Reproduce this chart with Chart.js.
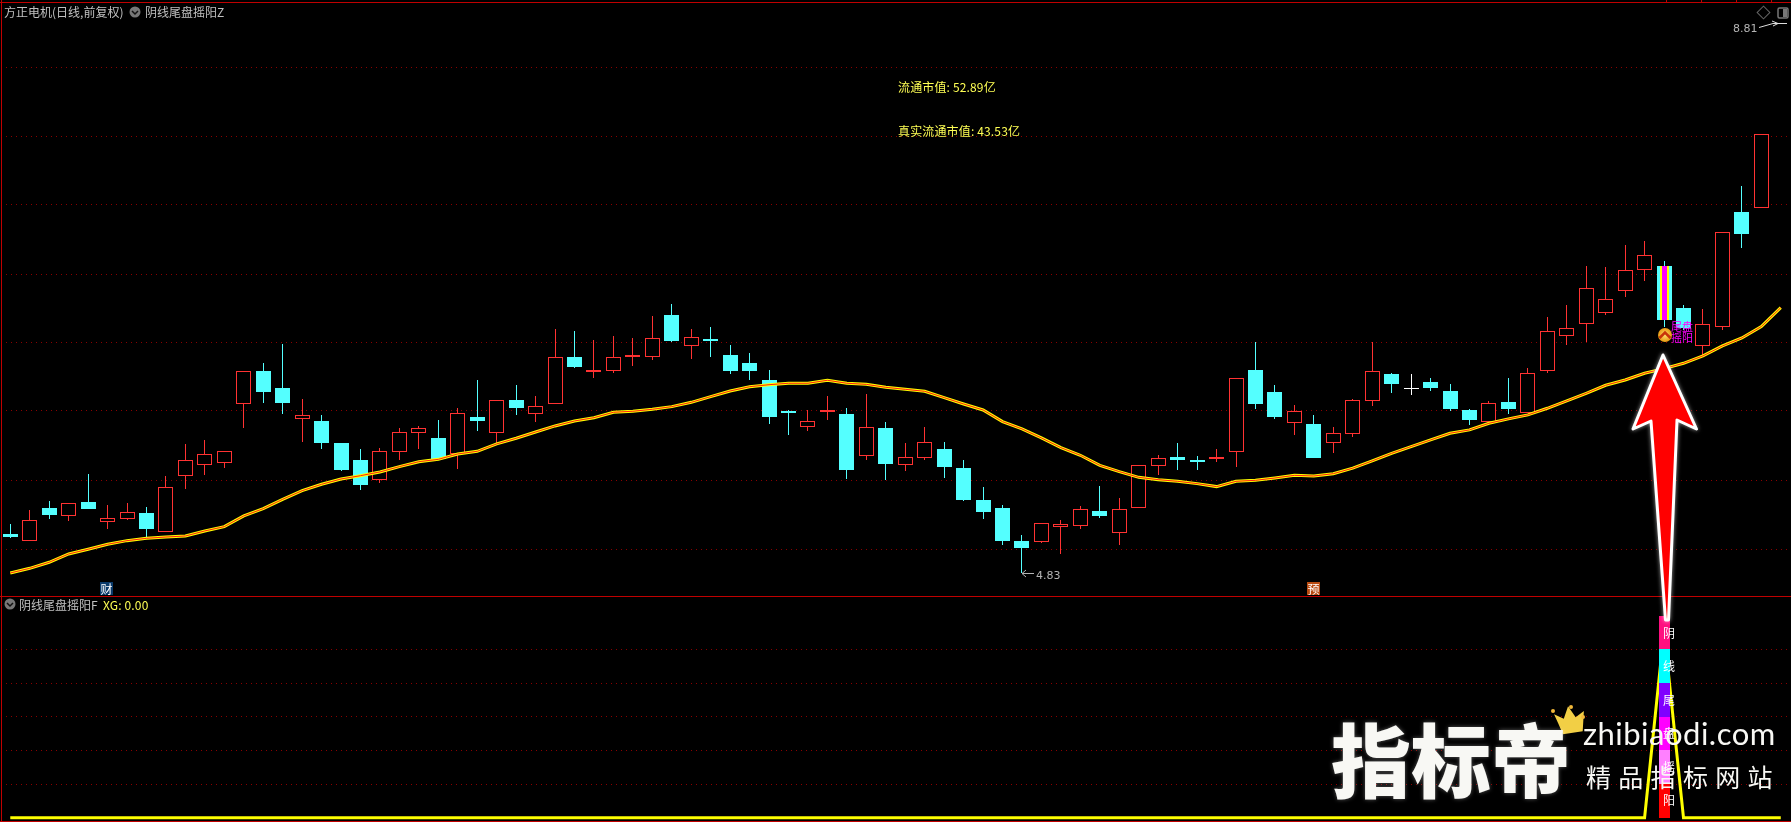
<!DOCTYPE html>
<html>
<head>
<meta charset="utf-8">
<title>方正电机</title>
<script src="https://cdn.jsdelivr.net/npm/chart.js@4/dist/chart.umd.js"></script>
<style>
html, body { margin: 0; padding: 0; background: #000; width: 1791px; height: 822px; overflow: hidden; }
body { position: relative; font-family: "Noto Sans CJK SC", sans-serif; font-size: 12px; }
canvas { position: absolute; left: 0; }
#priceChart { top: 0; }
#signalChart { top: 597px; }
.rule { position: absolute; background: #c00000; }
.txt { position: absolute; white-space: nowrap; line-height: 14px; color: #c0c0c0; }
.yellow { color: #ffff54; letter-spacing: 0.15px; }
.band { color: #fff; width: 14px; text-align: center; margin-left: -7px; margin-top: -7px; }
.tag { color: #ff00ff; font-size: 11px; line-height: 11px; }
.badge { color: #fff; width: 13px; height: 13px; line-height: 13px; text-align: center; }
.num { font-family: "DejaVu Sans", sans-serif; font-size: 11px; color: #b4b4b4; }
svg { position: absolute; left: 0; top: 0; pointer-events: none; }
.mark { color: #f8f8f4; font-weight: 900; text-shadow: 0 0 4px rgba(255,255,255,.35); }
</style>
</head>
<body>
<canvas id="priceChart" width="1791" height="597"></canvas>
<canvas id="signalChart" width="1791" height="225"></canvas>

<div class="rule" style="left:0;top:2px;width:1791px;height:1px"></div>
<div class="rule" style="left:1px;top:0;width:1px;height:822px"></div>
<div class="rule" style="left:0;top:596px;width:1791px;height:1px"></div>
<div class="rule" style="left:0;top:821px;width:1791px;height:1px"></div>
<div class="rule" style="left:1666px;top:0;width:1px;height:2px"></div>
<div class="rule" style="left:1701px;top:0;width:1px;height:2px"></div>
<div class="rule" style="left:1736px;top:0;width:1px;height:2px"></div>
<div class="rule" style="left:1771px;top:0;width:1px;height:2px"></div>

<div class="txt" style="left:4px;top:5px">方正电机(日线,前复权)</div>
<div class="txt" style="left:145px;top:5px">阴线尾盘摇阳Z</div>
<div class="txt" style="left:19px;top:598px">阴线尾盘摇阳F</div>
<div class="txt yellow" style="left:103px;top:598px">XG: 0.00</div>
<div class="txt yellow" style="left:898px;top:80px">流通市值: 52.89亿</div>
<div class="txt yellow" style="left:898px;top:124px">真实流通市值: 43.53亿</div>
<div class="txt num" style="left:1733px;top:22px">8.81</div>
<div class="txt num" style="left:1036px;top:569px">4.83</div>
<div class="txt badge" style="left:100px;top:582px;background:#0a3a6a">财</div>
<div class="txt badge" style="left:1307px;top:582px;background:#b84a10">预</div>
<div class="txt tag" style="left:1671px;top:321px">尾盘</div>
<div class="txt tag" style="left:1671px;top:332px">摇阳</div>

<div class="txt band" style="left:1669px;top:633px">阴</div>
<div class="txt band" style="left:1669px;top:666px">线</div>
<div class="txt band" style="left:1669px;top:700px">尾</div>
<div class="txt band" style="left:1669px;top:733px">盘</div>
<div class="txt band" style="left:1669px;top:767px">摇</div>
<div class="txt band" style="left:1669px;top:800px">阳</div>

<svg width="1791" height="822">
  <!-- header icons -->
  <circle cx="135" cy="12" r="5.5" fill="#777"/>
  <path d="M132 11 L135 14 L138 11" stroke="#111" stroke-width="1.5" fill="none"/>
  <circle cx="10" cy="604" r="5.5" fill="#777"/>
  <path d="M7 603 L10 606 L13 603" stroke="#111" stroke-width="1.5" fill="none"/>
  <rect x="1759" y="8" width="9" height="9" transform="rotate(45 1763.5 12.5)" fill="none" stroke="#666"/>
  <rect x="1778" y="8" width="10" height="10" rx="1.5" fill="none" stroke="#777" stroke-width="1.5"/>
  <rect x="1783" y="9" width="4" height="8" fill="#777"/>
  <!-- high and low pointers -->
  <path d="M1759 27.5 L1773 23.5 L1787 23.5" stroke="#ddd" fill="none"/>
  <path d="M1772 21 L1778 23.5 L1773 26" stroke="#ddd" fill="none"/>
  <path d="M1022 573.5 L1034 573.5 M1026 570 L1022 573.5 L1026 577" stroke="#b4b4b4" fill="none"/>
  <!-- signal marker -->
  <defs><radialGradient id="gold"><stop offset="0" stop-color="#ffe070"/><stop offset="1" stop-color="#e89a10"/></radialGradient></defs>
  <circle cx="1665" cy="335" r="7" fill="url(#gold)"/>
  <path d="M1659.5 338 L1665 332.5 L1670.5 338" stroke="#c8340a" stroke-width="2.5" fill="none"/>
  <!-- big arrow -->
  <polygon points="1663,355 1696.5,429 1677,420 1668.5,620 1665.5,620 1651,421 1633,429"
    fill="#ff0000" stroke="#fff" stroke-width="3" stroke-linejoin="round"
    style="filter:drop-shadow(0 0 2px rgba(255,255,255,.6))"/>
  <!-- crown -->
  <polygon points="1558,722 1555,712 1564,718 1570,706 1576,718 1585,713 1581,733 1561,733" fill="#f2cf45" transform="rotate(-8 1570 720)"/>
  <circle cx="1553" cy="711" r="2" fill="#f2b93a"/><circle cx="1571" cy="707" r="2" fill="#f2b93a"/><circle cx="1583" cy="717" r="2" fill="#f2b93a"/>
</svg>

<div class="txt mark" style="left:1331px;top:716px;font-size:80px;line-height:80px">指标帝</div>
<div class="txt" style="left:1583px;top:716px;font-family:Lato,sans-serif;font-size:31px;line-height:34px;letter-spacing:0.5px;color:#f8f8f4">zhibiaodi.com</div>
<div class="txt" style="left:1586px;top:762px;font-size:25px;line-height:28px;letter-spacing:7.3px;color:#f8f8f4">精品指标网站</div>

<script>
const opens = [
    5.18, 5.12, 5.42, 5.35, 5.47, 5.29, 5.32, 5.37, 5.20, 5.71,
    5.81, 5.83, 6.36, 6.66, 6.51, 6.23, 6.21, 6.01, 5.85, 5.67,
    5.93, 6.10, 6.05, 5.91, 6.24, 6.10, 6.40, 6.27, 6.36, 6.79,
    6.65, 6.66, 6.79, 6.79, 7.17, 6.89, 6.95, 6.81, 6.73, 6.58,
    6.30, 6.15, 6.29, 6.27, 5.89, 6.14, 5.81, 5.87, 5.95, 5.78,
    5.49, 5.42, 5.12, 5.11, 5.25, 5.26, 5.39, 5.19, 5.42, 5.80,
    5.88, 5.85, 5.86, 5.93, 6.67, 6.47, 6.19, 6.18, 6.01, 6.09,
    6.39, 6.63, 6.51, 6.56, 6.48, 6.31, 6.20, 6.38, 6.28, 6.66,
    6.98, 7.09, 7.19, 7.39, 7.58, 7.61, 7.23, 6.89, 7.06, 8.10,
    8.14
];
const closes = [
    5.16, 5.31, 5.36, 5.46, 5.41, 5.33, 5.38, 5.23, 5.61, 5.85,
    5.91, 5.94, 6.66, 6.47, 6.37, 6.26, 6.01, 5.76, 5.63, 5.94,
    6.11, 6.14, 5.86, 6.28, 6.21, 6.40, 6.33, 6.34, 6.79, 6.70,
    6.67, 6.79, 6.81, 6.96, 6.93, 6.97, 6.93, 6.66, 6.66, 6.24,
    6.28, 6.21, 6.31, 5.76, 6.15, 5.82, 5.88, 6.02, 5.79, 5.49,
    5.38, 5.12, 5.06, 5.28, 5.27, 5.41, 5.35, 5.41, 5.81, 5.87,
    5.85, 5.84, 5.88, 6.60, 6.36, 6.24, 6.30, 5.87, 6.10, 6.40,
    6.66, 6.54, 6.50, 6.51, 6.32, 6.22, 6.37, 6.32, 6.64, 7.02,
    7.05, 7.41, 7.31, 7.58, 7.71, 7.12, 7.05, 7.09, 7.92, 7.90,
    8.81
];
const highs = [
    5.27, 5.40, 5.48, 5.46, 5.73, 5.45, 5.46, 5.43, 5.71, 6.00,
    6.04, 5.94, 6.66, 6.73, 6.91, 6.41, 6.26, 6.01, 5.95, 5.96,
    6.14, 6.16, 6.22, 6.33, 6.58, 6.40, 6.53, 6.43, 7.04, 7.02,
    6.94, 6.98, 6.96, 7.16, 7.27, 7.04, 7.06, 6.90, 6.82, 6.67,
    6.31, 6.31, 6.43, 6.33, 6.45, 6.20, 6.01, 6.15, 6.02, 5.85,
    5.61, 5.45, 5.17, 5.28, 5.31, 5.44, 5.62, 5.51, 5.81, 5.90,
    6.01, 5.89, 5.95, 6.60, 6.92, 6.53, 6.35, 6.26, 6.15, 6.41,
    6.92, 6.64, 6.63, 6.60, 6.54, 6.32, 6.39, 6.60, 6.69, 7.15,
    7.26, 7.61, 7.60, 7.80, 7.84, 7.66, 7.26, 7.22, 7.92, 8.34,
    8.81
];
const lows = [
    5.15, 5.12, 5.32, 5.30, 5.41, 5.23, 5.31, 5.15, 5.20, 5.59,
    5.72, 5.78, 6.14, 6.37, 6.27, 6.02, 5.95, 5.75, 5.58, 5.65,
    5.85, 5.95, 5.85, 5.77, 6.12, 6.01, 6.26, 6.20, 6.36, 6.69,
    6.60, 6.64, 6.71, 6.76, 6.92, 6.77, 6.79, 6.63, 6.58, 6.18,
    6.08, 6.12, 6.22, 5.68, 5.85, 5.67, 5.75, 5.85, 5.69, 5.48,
    5.32, 5.08, 4.83, 5.10, 5.00, 5.23, 5.33, 5.08, 5.42, 5.72,
    5.76, 5.76, 5.84, 5.79, 6.32, 6.23, 6.08, 5.87, 5.92, 6.06,
    6.34, 6.46, 6.44, 6.48, 6.30, 6.17, 6.20, 6.27, 6.28, 6.64,
    6.90, 6.92, 7.17, 7.33, 7.48, 7.06, 7.03, 6.81, 7.03, 7.78,
    8.14
];
const maLine = [
    4.830, 4.872, 4.927, 5.002, 5.045, 5.090, 5.123, 5.144, 5.156, 5.165,
    5.211, 5.250, 5.347, 5.413, 5.498, 5.576, 5.634, 5.682, 5.712, 5.746,
    5.794, 5.839, 5.860, 5.909, 5.933, 6.000, 6.051, 6.108, 6.163, 6.208,
    6.238, 6.287, 6.296, 6.314, 6.338, 6.377, 6.429, 6.480, 6.519, 6.537,
    6.550, 6.550, 6.577, 6.550, 6.540, 6.513, 6.495, 6.477, 6.420, 6.362,
    6.308, 6.202, 6.136, 6.054, 5.966, 5.897, 5.806, 5.749, 5.697, 5.676,
    5.661, 5.640, 5.613, 5.661, 5.670, 5.691, 5.715, 5.709, 5.730, 5.780,
    5.846, 5.915, 5.976, 6.036, 6.097, 6.127, 6.187, 6.227, 6.263, 6.323,
    6.390, 6.459, 6.532, 6.580, 6.641, 6.683, 6.731, 6.798, 6.888, 6.961,
    7.064, 7.236
];
const xgLine = [
    0, 0, 0, 0, 0, 0, 0, 0, 0, 0,
    0, 0, 0, 0, 0, 0, 0, 0, 0, 0,
    0, 0, 0, 0, 0, 0, 0, 0, 0, 0,
    0, 0, 0, 0, 0, 0, 0, 0, 0, 0,
    0, 0, 0, 0, 0, 0, 0, 0, 0, 0,
    0, 0, 0, 0, 0, 0, 0, 0, 0, 0,
    0, 0, 0, 0, 0, 0, 0, 0, 0, 0,
    0, 0, 0, 0, 0, 0, 0, 0, 0, 0,
    0, 0, 0, 0, 0, 5.55, 0, 0, 0, 0,
    0, 0
];
const priceGrid = [5.04, 5.67, 6.30, 6.92, 7.54, 8.17, 8.79, 9.41];
const signalGrid = [1, 2, 3, 4, 5];
const signalBands = [[0, 1], [1, 2], [2, 3], [3, 4], [4, 5], [5, 6]];
const bandColors = ["#ff0000", "#ff80ff", "#ff00ff", "#8000ff", "#00ffff", "#ff0f80"];
const signalDay = 85;
const flatDay = 72;

const RED = "#ff3232";
const CYAN = "#54ffff";
const GRID = "#8a0000";
const labels = maLine.map(function (v, i) { return i + 1; });

function onlyAt(index, value) {
    return labels.map(function (v, i) { return i === index ? value : null; });
}

function candleColor(i) {
    if (i === flatDay) return "#ffffff";
    return closes[i] >= opens[i] ? RED : CYAN;
}

// bars land on whole pixels, otherwise the 1px wicks go soft
const snapBars = {
    id: "snapBars",
    afterDatasetsUpdate: function (chart) {
        chart.data.datasets.forEach(function (ds, i) {
            const meta = chart.getDatasetMeta(i);
            if (meta.type !== "bar") return;
            meta.data.forEach(function (el) {
                el.x = Math.floor(el.x) + 0.5;
                el.y = Math.round(el.y);
                el.base = Math.round(el.base);
                if (el.base === el.y) el.base = el.y + 1;
            });
        });
    }
};

function hiddenX() {
    return { display: false, offset: true, grid: { display: false } };
}

function gridY(min, max, values) {
    return {
        min: min,
        max: max,
        afterBuildTicks: function (scale) {
            scale.ticks = values.map(function (v) { return { value: v }; });
        },
        ticks: { display: false },
        grid: { color: GRID, drawTicks: false, lineWidth: 1 },
        border: { display: false, dash: [1, 4] }
    };
}

const baseOptions = {
    responsive: false,
    animation: false,
    events: [],
    layout: { padding: { left: 0.55, right: 0.5, top: 0, bottom: 0 } },
    plugins: { legend: { display: false }, tooltip: { enabled: false } }
};

new Chart(document.getElementById("priceChart").getContext("2d"), {
    type: "bar",
    plugins: [snapBars],
    data: {
        labels: labels,
        datasets: [
            {
                data: lows.map(function (v, i) { return [v, highs[i]]; }),
                backgroundColor: lows.map(function (v, i) { return candleColor(i); }),
                barThickness: 1,
                borderWidth: 0,
                inflateAmount: 0,
                grouped: false,
                order: 6
            },
            {
                data: opens.map(function (v, i) { return [v, closes[i]]; }),
                backgroundColor: opens.map(function (v, i) { return closes[i] >= v && i !== flatDay ? "#000000" : candleColor(i); }),
                borderColor: opens.map(function (v, i) { return candleColor(i); }),
                borderWidth: 1,
                borderSkipped: false,
                barThickness: 15,
                inflateAmount: 0,
                grouped: false,
                order: 5
            },
            {
                data: onlyAt(signalDay, [opens[signalDay], closes[signalDay]]),
                backgroundColor: "#ffff00",
                barThickness: 9,
                borderWidth: 0,
                inflateAmount: 0,
                grouped: false,
                order: 4
            },
            {
                data: onlyAt(signalDay, [opens[signalDay], closes[signalDay]]),
                backgroundColor: "#ff00ff",
                barThickness: 5,
                borderWidth: 0,
                inflateAmount: 0,
                grouped: false,
                order: 3
            },
            {
                type: "line",
                data: maLine,
                borderColor: "#ffff00",
                borderWidth: 3,
                pointRadius: 0,
                tension: 0,
                order: 2
            },
            {
                type: "line",
                data: maLine,
                borderColor: "#ff2010",
                borderWidth: 1,
                pointRadius: 0,
                tension: 0,
                order: 1
            }
        ]
    },
    options: Object.assign({}, baseOptions, {
        scales: { x: hiddenX(), y: gridY(4.612, 10.025, priceGrid) }
    })
});

const signalSets = signalBands.map(function (band, i) {
    return {
        data: onlyAt(signalDay, band),
        backgroundColor: bandColors[i],
        barThickness: 11,
        borderWidth: 0,
        inflateAmount: 0,
        grouped: false,
        order: 1
    };
});
signalSets.push({
    type: "line",
    data: xgLine,
    borderColor: "#ffff00",
    borderWidth: 3,
    pointRadius: 0,
    tension: 0,
    order: 2
});

new Chart(document.getElementById("signalChart").getContext("2d"), {
    type: "bar",
    plugins: [snapBars],
    data: { labels: labels, datasets: signalSets },
    options: Object.assign({}, baseOptions, {
        scales: { x: hiddenX(), y: gridY(-0.128, 6.557, signalGrid) }
    })
});
</script>
</body>
</html>
